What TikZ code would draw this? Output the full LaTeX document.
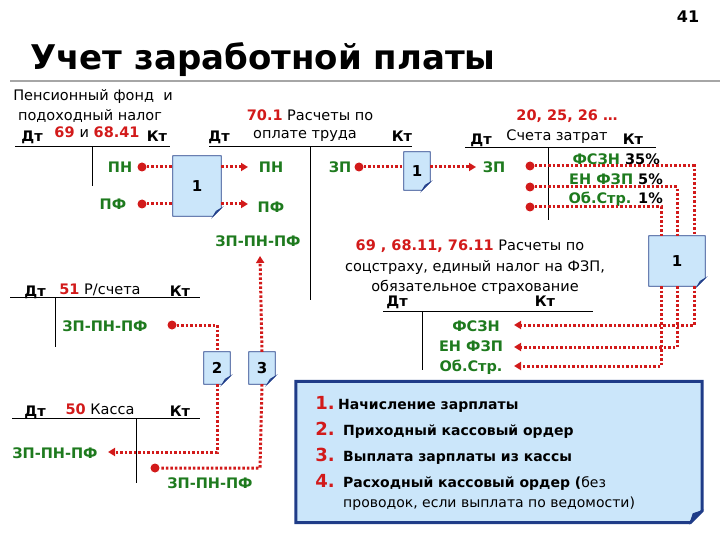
\documentclass[tikz,border=0pt]{standalone}
\usepackage{fontspec}
\setmainfont{DejaVu Sans}
\usetikzlibrary{arrows.meta}
\definecolor{rd}{HTML}{D21A1A}
\definecolor{gn}{HTML}{1E7A1E}
\definecolor{docfill}{HTML}{CBE6FA}
\definecolor{docline}{HTML}{1F3C88}
\tikzset{
  tx/.style={inner sep=0pt, anchor=base, font=\fontsize{14.5}{16}\selectfont},
  bx/.style={inner sep=0pt, anchor=base, font=\fontsize{14.5}{16}\selectfont\bfseries},
  gl/.style={inner sep=0pt, anchor=base, text=gn, font=\fontsize{14.5}{16}\selectfont\bfseries},
  acc/.style={line width=1pt},
  flow/.style={draw=rd, line width=3pt, dash pattern=on 2.5pt off 2pt},
  fl/.style={flow, -{Triangle[length=7pt,width=8pt,fill=rd]}},
  dot/.style={circle, fill=rd, inner sep=0pt, minimum size=9pt},
  docbox/.style={inner sep=0pt, font=\fontsize{15}{16}\selectfont\bfseries},
}
\newcommand\mydoc[5]{% name, center, w, h, label
  \node[docbox, minimum width=#3pt, minimum height=#4pt] (#1) at (#2) {};
  \path[fill=docfill, draw=docline, line width=0.8pt] (#1.north west) -- (#1.north east) -- ([yshift=8pt]#1.south east) -- ([xshift=-8pt]#1.south east) -- (#1.south west) -- cycle;
  \path[fill=docline!60!docfill, draw=docline, line width=0.8pt] ([yshift=8pt]#1.south east) -- ([xshift=-8pt]#1.south east) -- ([xshift=-5pt,yshift=5pt]#1.south east) -- cycle;
  \node[docbox] at (#1) {#5};
}
\begin{document}
\begin{tikzpicture}[x=1pt,y=-1pt]
\useasboundingbox (0,0) rectangle (720,540);
% header
\node[bx, font=\fontsize{16}{17}\selectfont\bfseries] (pg) at (688,23) {41};
\node[inner sep=0pt, anchor=base west, font=\fontsize{34}{36}\selectfont\bfseries] (title) at (30,70) {Учет заработной платы};
\draw[gray!70, line width=1.5pt] (10,81) -- (720,81);

% account 69/68.41
\node[tx] (a1t1) at (93,101) {Пенсионный фонд\ \ и};
\node[tx] (a1t2) at (90,121) {подоходный налог};
\node[bx] (a1d) at (32,142) {Дт};
\node[bx] (a1n) at (97,138) {\textcolor{rd}{69} \mdseries и \bfseries\textcolor{rd}{68.41}};
\node[bx] (a1k) at (157,142) {Кт};
\draw[acc] (15,147) -- (170,147) (92,147) -- (92,186);
\node[gl] (pn1) at (120,173) {ПН};
\node[gl] (pf1) at (113,210) {ПФ};
\node[dot] (dpn) at (142,167) {};
\node[dot] (dpf) at (142,204) {};

% account 70.1
\node[tx] (a2t1) at (310,121) {\bfseries\textcolor{rd}{70.1}\mdseries\ Расчеты по};
\node[tx] (a2t2) at (305,139) {оплате труда};
\node[bx] (a2d) at (219,142) {Дт};
\node[bx] (a2k) at (402,142) {Кт};
\draw[acc] (209,147) -- (412,147) (310,147) -- (310,300);
\node[gl] (pn2) at (271,173) {ПН};
\node[gl] (pf2) at (271,212) {ПФ};
\node[gl] (zpnp) at (258,246) {ЗП-ПН-ПФ};
\node[gl] (zp1) at (340,173) {ЗП};
\node[dot] (dzp1) at (359,167) {};

% doc 1 (left)
\mydoc{d1}{197,186}{48}{60}{1}
\draw[flow] (dpn) -- (d1.west |- dpn);
\draw[flow] (dpf) -- (d1.west |- dpf);
\draw[fl] (d1.east |- dpn) -- (248,167);
\draw[fl] (d1.east |- dpf) -- (248,204);

% doc 1 (middle)
\mydoc{d1b}{417,171}{26}{38}{1}
\draw[flow] (dzp1) -- (d1b.west |- dzp1);
\draw[fl] (d1b.east |- dzp1) -- (476,167);

% account 20
\node[bx, text=rd] (a3n) at (567,121) {20, 25, 26 \dots};
\node[tx] (a3t) at (557,141) {Счета затрат};
\node[bx] (a3d) at (481,145) {Дт};
\node[bx] (a3k) at (633,145) {Кт};
\draw[acc] (465,148) -- (656,148) (548,148) -- (548,220);
\node[gl] (zp2) at (494,173) {ЗП};
\node[bx, anchor=base east] (f1) at (660,165) {\textcolor{gn}{ФСЗН} 35\%};
\node[bx, anchor=base east] (f2) at (663,185) {\textcolor{gn}{ЕН ФЗП} 5\%};
\node[bx, anchor=base east] (f3) at (663,204) {\textcolor{gn}{Об.Стр.} 1\%};
\node[dot] (e1) at (530,166) {};
\node[dot] (e2) at (530,187) {};
\node[dot] (e3) at (530,207) {};

% doc 1 (right)
\mydoc{d1c}{677,261}{56}{50}{1}
\draw[flow] (e1) -- (694,166) -- (694,236);
\draw[flow] (e2) -- (677,187) -- (677,236);
\draw[flow] (e3) -- (661,207) -- (661,236);

% account 69 / 68.11 / 76.11
\node[tx] (a4t1) at (470,251) {\bfseries\textcolor{rd}{69 , 68.11, 76.11}\mdseries\ Расчеты по};
\node[tx] (a4t2) at (475,271) {соцстраху, единый налог на ФЗП,};
\node[tx] (a4t3) at (475,291) {обязательное страхование};
\node[bx] (a4d) at (397,306) {Дт};
\node[bx] (a4k) at (545,306) {Кт};
\draw[acc] (383,311) -- (593,311) (422,311) -- (422,370);
\node[gl] (s1) at (476,331) {ФСЗН};
\node[gl] (s2) at (471,351) {ЕН ФЗП};
\node[gl] (s3) at (471,371) {Об.Стр.};
\draw[fl] (694,286) -- (694,325) -- (514,325);
\draw[fl] (677,286) -- (677,347) -- (514,347);
\draw[fl] (661,286) -- (661,366) -- (514,366);

% account 51
\node[bx] (a5d) at (35,296) {Дт};
\node[tx] (a5n) at (100,294) {\bfseries\textcolor{rd}{51}\mdseries\ Р/счета};
\node[bx] (a5k) at (180,296) {Кт};
\draw[acc] (10,297) -- (200,297) (55,297) -- (55,347);
\node[gl] (z51) at (105,331) {ЗП-ПН-ПФ};
\node[dot] (d51) at (172,325) {};

% docs 2,3
\mydoc{d2}{217,368}{26}{32}{2}
\mydoc{d3}{262,368}{26}{32}{3}
\draw[flow] (d51) -- (217,325) -- (d2.north);
\draw[fl] (d2.south) -- (217,452) -- (108,452);
\draw[fl] (d3.north) -- (260,256);
\node[dot] (d50) at (155,468) {};
\draw[flow] (d3.south) -- (260,468) -- (d50);

% account 50
\node[bx] (a6d) at (35,416) {Дт};
\node[tx] (a6n) at (100,414) {\bfseries\textcolor{rd}{50}\mdseries\ Касса};
\node[bx] (a6k) at (180,416) {Кт};
\draw[acc] (12,418) -- (200,418) (136,418) -- (136,483);
\node[gl] (z50a) at (55,458) {ЗП-ПН-ПФ};
\node[gl] (z50b) at (210,488) {ЗП-ПН-ПФ};

% legend
\node[inner sep=0pt, minimum width=406pt, minimum height=141pt] (leg) at (499,452) {};
\path[fill=docfill, draw=docline, line width=3pt] (leg.north west) -- (leg.north east) -- ([yshift=12pt]leg.south east) -- ([xshift=-12pt]leg.south east) -- (leg.south west) -- cycle;
\path[fill=docline, draw=docline, line width=1pt] ([yshift=12pt]leg.south east) -- ([xshift=-12pt]leg.south east) -- ([xshift=-9pt,yshift=9pt]leg.south east) -- cycle;
\tikzset{num/.style={inner sep=0pt, anchor=base east, text=rd, font=\fontsize{18}{19}\selectfont\bfseries},
 lt/.style={inner sep=0pt, anchor=base west, font=\fontsize{14}{15}\selectfont\bfseries}}
\node[num] (n1) at (335,409) {1.};
\node[lt] (l1) at (338,409) {Начисление зарплаты};
\node[num] (n2) at (335,435) {2.};
\node[lt] (l2) at (343,435) {Приходный кассовый ордер};
\node[num] (n3) at (335,461) {3.};
\node[lt] (l3) at (343,461) {Выплата зарплаты из кассы};
\node[num] (n4) at (335,487) {4.};
\node[lt] (l4) at (343,487) {Расходный кассовый ордер (\mdseries без};
\node[tx, anchor=base west, font=\fontsize{14}{15}\selectfont] (l5) at (343,507) {проводок, если выплата по ведомости)};
\end{tikzpicture}
\end{document}
